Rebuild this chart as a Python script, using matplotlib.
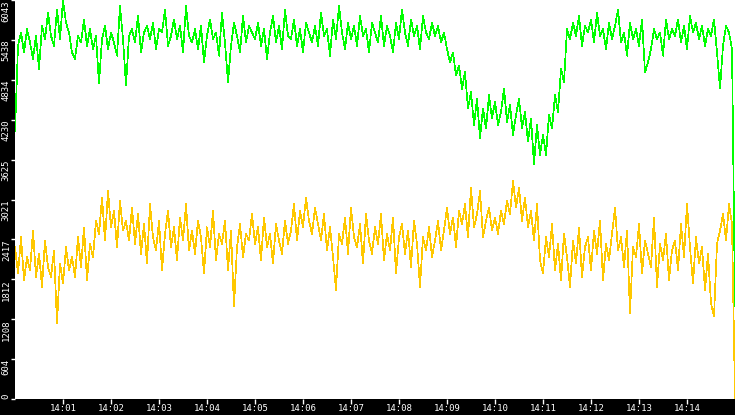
import matplotlib
matplotlib.use('Agg')
import matplotlib.pyplot as plt
import numpy as np

# one sample every 3.75 s from 14:00:00 to 14:15:00
STEP_S = 3.75

GREEN = [
    4050, 5350, 5550, 5250, 5600, 5400, 5150, 5500, 5000, 5650, 5450, 5850, 5500, 5350, 5900, 5450, 6040, 5700, 5550, 5250,
    5150, 5500, 5400, 5750, 5350, 5600, 5300, 5500, 4780, 5450, 5650, 5300, 5550, 5400, 5200, 5950, 5450, 4750, 5500, 5600,
    5400, 5800, 5250, 5550, 5650, 5450, 5700, 5300, 5600, 5550, 5900, 5350, 5500, 5750, 5450, 5650, 5250, 5950, 5500, 5400,
    5600, 5300, 5650, 5100, 5500, 5750, 5450, 5550, 5200, 5850, 5400, 4800, 5350, 5700, 5500, 5250, 5800, 5400, 5650, 5550,
    5450, 5700, 5350, 5600, 5150, 5550, 5800, 5400, 5650, 5300, 5900, 5500, 5450, 5750, 5350, 5600, 5250, 5700, 5550, 5400,
    5650, 5350, 5850, 5500, 5600, 5200, 5750, 5450, 5950, 5550, 5300, 5700, 5450, 5650, 5350, 5800, 5500, 5600, 5250, 5700,
    5550, 5400, 5800, 5350, 5650, 5500, 5250, 5700, 5450, 5900, 5550, 5350, 5750, 5500, 5650, 5300, 5800, 5550, 5450, 5700,
    5500, 5650, 5400, 5550, 5300, 5100, 5250, 4900, 5050, 4700, 4950, 4400, 4650, 4150, 4550, 3950, 4400, 4100, 4600, 4250,
    4500, 4150, 4350, 4700, 4200, 4450, 4000, 4300, 4550, 4100, 4350, 3900, 4250, 3550, 4150, 3700, 4000, 3700, 4300, 4100,
    4600, 4350, 5000, 4800, 5600, 5450, 5700, 5500, 5800, 5350, 5650, 5550, 5750, 5400, 5850, 5500, 5600, 5300, 5700, 5450,
    5650, 5900, 5400, 5550, 5200, 5700, 5450, 5600, 5350, 5750, 4950, 5100, 5300, 5600, 5450, 5550, 5200, 5750, 5450, 5600,
    5500, 5750, 5400, 5650, 5300, 5800, 5550, 5700, 5450, 5650, 5350, 5600, 5500, 5750, 5250, 4700, 5350, 5650, 5550, 5300,
    1400,
]

YELLOW = [
    2300, 1900, 2450, 1800, 2150, 1950, 2550, 1850, 2200, 1700, 2400, 2000, 1850, 2250, 1150, 2050, 1750, 2300, 1950, 2150,
    1850, 2450, 2000, 2600, 1800, 2350, 2150, 2700, 2500, 3050, 2400, 3150, 2600, 2850, 2300, 3000, 2550, 2700, 2400, 2900,
    2350, 2800, 2200, 2650, 2050, 2950, 2450, 2250, 2700, 1950, 2500, 2850, 2300, 2600, 2100, 2750, 2400, 2950, 2250, 2550,
    2200, 2700, 2450, 1900, 2600, 2300, 2850, 2100, 2500, 2350, 2700, 1950, 2550, 1400, 2300, 2650, 2150, 2500, 2400, 2800,
    2350, 2600, 2100, 2750, 2300, 2500, 2050, 2650, 2400, 2200, 2700, 2350, 2550, 2950, 2400, 2850, 2600, 3050, 2700, 2500,
    2900, 2650, 2400, 2800, 2250, 2600, 2150, 1650, 2500, 2350, 2750, 2200, 2900, 2450, 2300, 2650, 2050, 2800, 2400, 2200,
    2600, 2350, 2800, 2100, 2500, 2250, 2750, 1900, 2450, 2650, 2200, 2550, 2000, 2700, 2350, 1700, 2450, 2250, 2600, 2150,
    2400, 2700, 2250, 2550, 2900, 2500, 2750, 2300, 2850, 2650, 2950, 2450, 3200, 2600, 2800, 3150, 2450, 2700, 2900, 2550,
    2750, 2500, 2850, 2650, 3000, 2800, 3300, 2900, 3200, 2700, 3050, 2600, 2850, 2400, 2950, 2100, 1900, 2450, 2150, 2650,
    1950, 2350, 1800, 2500, 2150, 1700, 2400, 2050, 2600, 1850, 2300, 2450, 1950, 2550, 2200, 2700, 1800, 2350, 2100, 2500,
    2900, 2250, 2450, 2000, 2550, 1300, 2300, 2150, 2650, 1900, 2400, 2200, 2000, 2750, 1700, 2350, 2100, 2500, 1800, 2250,
    2400, 1950, 2650, 2150, 2950, 2300, 1750, 2450, 2050, 2300, 1650, 2200, 1450, 1250, 2350, 2550, 2800, 2400, 2950, 2650,
    0,
]

Y_TICKS = [0, 604, 1208, 1812, 2417, 3021, 3625, 4230, 4834, 5438, 6043]
X_MINUTES = list(range(1, 15))
X_LABELS = ['14:%02d' % m for m in X_MINUTES]

t = np.arange(len(GREEN)) * STEP_S

fig = plt.figure(figsize=(7.35, 4.15), dpi=100)
fig.patch.set_facecolor('black')
ax = fig.add_axes([15 / 735, 16 / 415, 720 / 735, 399 / 415])
ax.set_facecolor('white')

ax.plot(t, YELLOW, color='#ffc800', linewidth=0.5, antialiased=False)
ax.plot(t, GREEN, color='#00ff00', linewidth=0.5, antialiased=False)

ax.set_xlim(0, 900)
ax.set_ylim(0, 6043)

for s in ax.spines.values():
    s.set_visible(False)

ax.set_xticks([m * 60 for m in X_MINUTES])
ax.set_xticklabels(X_LABELS, color='white', fontsize=6.5, family='DejaVu Sans Mono')
ax.tick_params(axis='x', colors='white', length=3.5, width=1, pad=0)

ax.set_yticks(Y_TICKS)
ax.set_yticklabels([str(v) for v in Y_TICKS], color='white', fontsize=6.5,
                   family='DejaVu Sans Mono', rotation=90)
ax.tick_params(axis='y', colors='white', length=3, width=1, pad=0)
for lbl, v in zip(ax.get_yticklabels(), Y_TICKS):
    lbl.set_va('bottom' if v == 0 else 'top')

fig.savefig('out.png', dpi=100, facecolor=fig.get_facecolor())
